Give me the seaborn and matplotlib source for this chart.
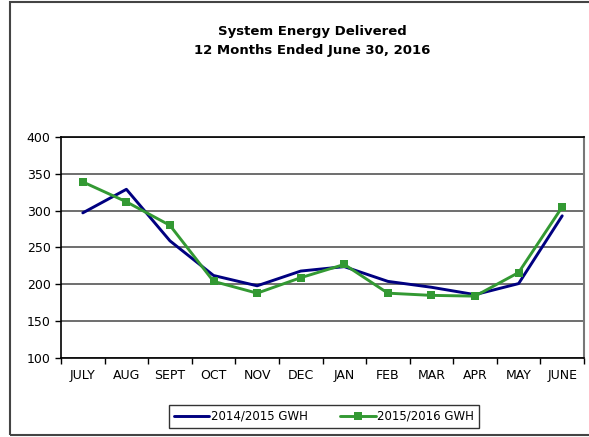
import numpy as np
import pandas as pd
import matplotlib
matplotlib.use("Agg")
import matplotlib.pyplot as plt
import matplotlib.ticker as ticker
from matplotlib.patches import Rectangle
import seaborn as sns

months = ["JULY", "AUG", "SEPT", "OCT", "NOV", "DEC", "JAN", "FEB", "MAR", "APR", "MAY", "JUNE"]
gwh_2014_2015 = [297, 329, 259, 212, 198, 218, 224, 204, 196, 186, 201, 293]
gwh_2015_2016 = [339, 312, 280, 204, 188, 209, 227, 188, 185, 184, 216, 305]

df = pd.DataFrame({"pos": np.arange(len(months)),
                   "2014/2015 GWH": gwh_2014_2015,
                   "2015/2016 GWH": gwh_2015_2016})

sns.set_style("white")
plt.rcParams["font.family"] = ["DejaVu Sans"]
plt.rcParams["text.color"] = "black"
plt.rcParams["xtick.color"] = "black"
plt.rcParams["ytick.color"] = "black"

fig = plt.figure(figsize=(5.89, 4.37), dpi=100)
ax = fig.add_axes([0.1036, 0.1808, 0.8879, 0.5057])

# horizontal gridlines
ax.yaxis.grid(True, color="#555555", linewidth=1.2)
ax.set_axisbelow(True)

sns.lineplot(data=df, x="pos", y="2014/2015 GWH", ax=ax, color="#000080",
             linewidth=2.1, label="2014/2015 GWH")
sns.lineplot(data=df, x="pos", y="2015/2016 GWH", ax=ax, color="#339933",
             linewidth=2.1, marker="s", markersize=5.5, markeredgewidth=0,
             label="2015/2016 GWH")

ax.set_xlim(-0.5, len(months) - 0.5)
ax.set_ylim(100, 400)
ax.yaxis.set_major_locator(ticker.MultipleLocator(50))
ax.set_xticks(np.arange(len(months)))
ax.set_xticklabels(months)
ax.xaxis.set_minor_locator(ticker.FixedLocator(np.arange(-0.5, len(months), 1)))
ax.tick_params(axis="x", which="major", length=0, pad=8, labelsize=9)
ax.tick_params(axis="x", which="minor", length=4, width=1, color="black", direction="out", bottom=True)
ax.tick_params(axis="y", length=4, width=1, color="black", direction="out", left=True, labelsize=9)
ax.set_xlabel("")
ax.set_ylabel("")

for s in ["left", "bottom", "top"]:
    ax.spines[s].set_color("black")
    ax.spines[s].set_linewidth(1.2)
ax.spines["right"].set_color("#777777")
ax.spines["right"].set_linewidth(1.5)

ax.get_legend().remove()
handles, labels = ax.get_legend_handles_labels()
leg = fig.legend(handles, labels, loc="center", bbox_to_anchor=(0.55, 0.047), ncol=2,
                 frameon=True, fancybox=False, fontsize=8.5, handlelength=3,
                 columnspacing=2.8, borderpad=0.4, handletextpad=0.1)
leg.get_frame().set_edgecolor("black")
leg.get_frame().set_linewidth(1.0)

fig.text(0.53, 0.906, "System Energy Delivered\n12 Months Ended June 30, 2016",
         ha="center", va="center", fontsize=9.5, fontweight="bold", linespacing=1.55)

fig.patches.append(Rectangle((10 / 589, 2 / 437), 1.0, 433 / 437, transform=fig.transFigure,
                             fill=False, edgecolor="#444444", linewidth=1.5))

fig.savefig("out.png", dpi=100)
